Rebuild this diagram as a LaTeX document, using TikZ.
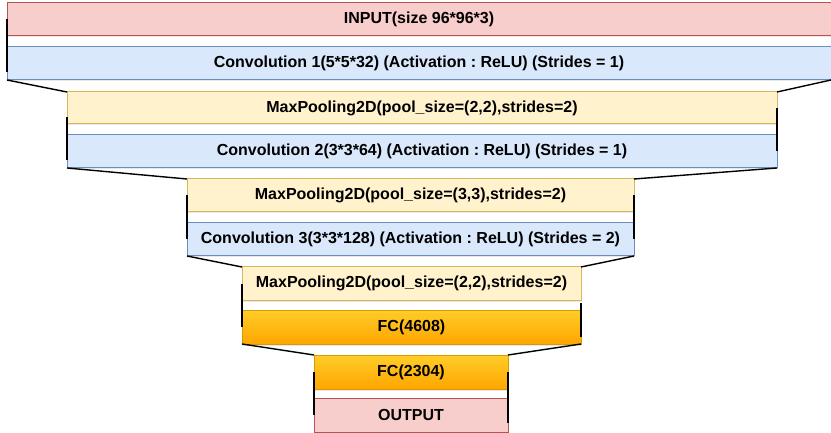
\documentclass[tikz,border=0pt]{standalone}
\usepackage{fontspec}
\setmainfont{Liberation Sans}
\usetikzlibrary{calc,shadows}
\frenchspacing
\definecolor{redfill}{HTML}{F8CECC}
\definecolor{redline}{HTML}{B85450}
\definecolor{bluefill}{HTML}{DAE8FC}
\definecolor{blueline}{HTML}{6C8EBF}
\definecolor{yelfill}{HTML}{FFF2CC}
\definecolor{yelline}{HTML}{D6B656}
\definecolor{orgtop}{HTML}{FFCD28}
\definecolor{orgbot}{HTML}{FFA500}
\definecolor{orgline}{HTML}{D79B00}
\tikzset{
  layer/.style={rectangle, inner sep=0pt, outer sep=0pt, line width=1pt,
    font=\fontsize{16}{19}\selectfont\bfseries\frenchspacing,
    drop shadow={shadow xshift=1pt, shadow yshift=-1.5pt, opacity=0.18}},
  redbox/.style={layer, fill=redfill, draw=redline},
  bluebox/.style={layer, fill=bluefill, draw=blueline},
  yelbox/.style={layer, fill=yelfill, draw=yelline},
  orgbox/.style={layer, top color=orgtop, bottom color=orgbot, draw=orgline},
  funnel/.style={draw=black, line width=1.4pt},
}
\begin{document}
\begin{tikzpicture}[x=1pt, y=-1pt]
\useasboundingbox[fill=white] (0,0) rectangle (831,433);

% layers, top to bottom
\node[redbox, minimum width=824pt, minimum height=33pt] (input) at (419,19.5) {INPUT(size 96*96*3)};
\node[bluebox, minimum width=824pt, minimum height=33pt] (conv1) at (419,63.5) {Convolution 1(5*5*32) (Activation : ReLU) (Strides = 1)};
\node[yelbox, minimum width=710pt, minimum height=32pt] (mp1) at (422,108) {MaxPooling2D(pool\_size=(2,2),strides=2)};
\node[bluebox, minimum width=710pt, minimum height=33pt] (conv2) at (422,151.5) {Convolution 2(3*3*64) (Activation : ReLU) (Strides = 1)};
\node[yelbox, minimum width=447pt, minimum height=33pt] (mp2) at (410.5,195.5) {MaxPooling2D(pool\_size=(3,3),strides=2)};
\node[bluebox, minimum width=447pt, minimum height=33pt] (conv3) at (410.5,239.5) {Convolution 3(3*3*128) (Activation : ReLU) (Strides = 2)};
\node[yelbox, minimum width=339pt, minimum height=33pt] (mp3) at (411.5,283.5) {MaxPooling2D(pool\_size=(2,2),strides=2)};
\node[orgbox, minimum width=339pt, minimum height=34pt] (fc1) at (411.5,327) {FC(4608)};
\node[orgbox, minimum width=194pt, minimum height=34pt] (fc2) at (411,372) {FC(2304)};
\node[redbox, minimum width=194pt, minimum height=34pt] (out) at (411,415) {OUTPUT};

% funnel outline: vertical sides
\draw[funnel] (input.west) -- ([yshift=-8.5pt]conv1.west);
\draw[funnel] ([yshift=-9pt]mp1.west) -- ([yshift=-9pt]conv2.west);
\draw[funnel] (mp1.east) -- (conv2.east);
\draw[funnel] (mp2.west) -- (conv3.west);
\draw[funnel] (mp2.east) -- (conv3.east);
\draw[funnel] (mp3.west) -- (fc1.west);
\draw[funnel] ([yshift=-19pt]mp3.east) -- ([yshift=-10pt]fc1.east);
\draw[funnel] (fc2.west) -- (out.west);
\draw[funnel] (fc2.east) -- ([yshift=-8pt]out.east);

% funnel outline: slanted joins
\draw[funnel] (conv1.south west) -- (mp1.north west);
\draw[funnel] (conv1.south east) -- (mp1.north east);
\draw[funnel] (conv2.south west) -- (mp2.north west);
\draw[funnel] (conv2.south east) -- (mp2.north east);
\draw[funnel] (conv3.south west) -- (mp3.north west);
\draw[funnel] (conv3.south east) -- (mp3.north east);
\draw[funnel] (fc1.south west) -- (fc2.north west);
\draw[funnel] (fc1.south east) -- (fc2.north east);
\end{tikzpicture}
\end{document}
